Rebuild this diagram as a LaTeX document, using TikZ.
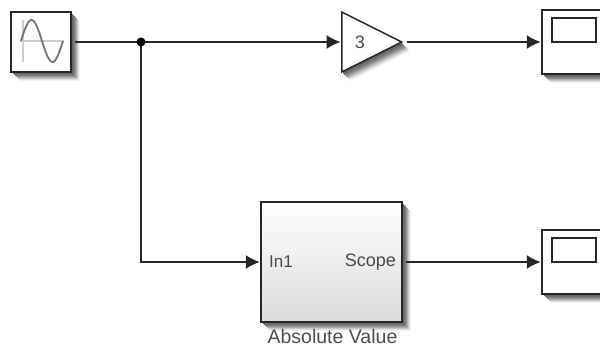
\documentclass[tikz,border=0pt]{standalone}
\usepackage{fontspec}
\setmainfont{Liberation Sans}
\usetikzlibrary{arrows.meta, shapes.geometric}

\tikzset{
  blockbox/.style={draw=black!85, line width=1.5pt, fill=white, inner sep=0pt},
  wire/.style={draw=black!85, line width=1.5pt},
  signal/.style={wire, -{Latex[length=14pt, width=14pt]}, shorten >=.5pt},
  porttext/.style={text=black!70, font=\fontsize{17}{20}\selectfont, inner sep=0pt},
}

\begin{document}
\begin{tikzpicture}[x=1pt, y=-1pt]
  \useasboundingbox (0, 0) rectangle (600, 347);

  % shadows, from the pale outer step to the dark inner one
  \foreach\d/\g in {9/5, 8/12, 7/22, 6/32, 5/42, 4/50, 3/56, 2/60} {
    \fill[black!\g] (11 + \d, 12 + \d) rectangle (71 + \d, 72 + \d);
    \fill[black!\g] (341 + \d, 12 + \d) -- (401 + \d, 42 + \d) -- (341 + \d, 72 + \d) -- cycle;
    \fill[black!\g] (261 + \d, 202 + \d) rectangle (402 + \d, 322 + \d);
    \fill[black!\g] (542 + \d, 10 + \d) rectangle (600, 74 + \d);
    \fill[black!\g] (542 + \d, 230 + \d) rectangle (600, 294 + \d);
  }

  % blocks
  \node[blockbox, minimum width=60pt, minimum height=60pt] (sine) at (41, 42) {};
  \node[blockbox, isosceles triangle, isosceles triangle stretches, anchor=lower side,
        minimum width=60pt, minimum height=60pt] (gain) at (341, 42) {};
  \begin{scope}
    \clip (0, 0) rectangle (600, 347);
    \node[blockbox, minimum width=62pt, minimum height=64pt] (scopeTop) at (573, 42) {};
    \node[blockbox, minimum width=62pt, minimum height=64pt] (scopeBottom) at (573, 262) {};
  \end{scope}
  \node[blockbox, minimum width=141pt, minimum height=120pt,
        top color=white, bottom color=black!14] (absBlock) at (331.5, 262) {};

  % sine icon
  \draw[black!20, line width=1.2pt] (20, 41) -- (64, 41);
  \draw[black!20, line width=1.2pt] (23, 20) -- (23, 62);
  \draw[black!55, line width=1.8pt, line join=round]
      plot[domain=0:360, samples=50] ({21 + \x / 360 * 42}, {41 - 21 * sin(\x)});

  % scope screens
  \foreach\y in {30, 250} {
    \draw[draw=black!85, line width=1.3pt, fill=white] (552, \y - 12) rectangle (596, \y + 12);
  }

  % labels
  \node[porttext, font=\fontsize{18}{20}\selectfont] (gainValue) at (360, 42) {3};
  \node[porttext, anchor=west] (inLabel) at (269, 262) {In1};
  \node[porttext, anchor=east, font=\fontsize{18}{20}\selectfont] (outLabel) at (396, 262) {Scope};
  \node[porttext, anchor=base, font=\fontsize{19.5}{22}\selectfont] (absName) at (332.5, 343.5) {Absolute Value};

  % connectors
  \coordinate (branch) at (141, 42);
  \coordinate (corner) at (141, 262);
  \draw[wire] (sine.east) ++(3, 0) coordinate (sineOut) -- (branch);
  \draw[signal] (branch) -- (gain.lower side);
  \draw[signal] (branch) -- (corner) -- (absBlock.west);
  \draw[signal] (gain.apex) ++(3, 0) coordinate (gainOut) -- (scopeTop.west);
  \draw[signal] (absBlock.east) ++(3, 0) coordinate (absOut) -- (scopeBottom.west);
  \fill[black] (branch) circle (4.5);

\end{tikzpicture}
\end{document}
